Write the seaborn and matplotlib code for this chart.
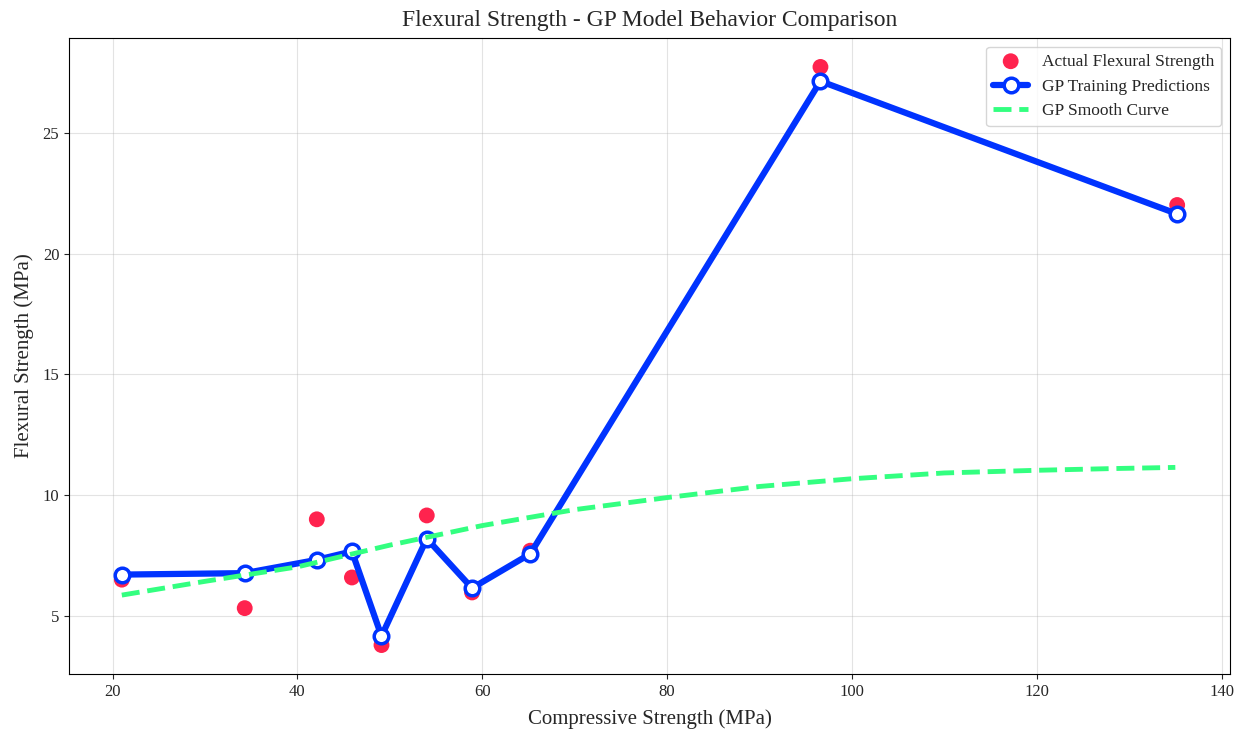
import numpy as np
import pandas as pd
import matplotlib
matplotlib.use('Agg')
import matplotlib.pyplot as plt
import seaborn as sns

# ---------------- data ----------------
comp_strength = [21.0, 34.3, 42.1, 45.9, 49.1, 54.0, 58.9, 65.2, 96.6, 135.2]
flex_actual = [6.50, 5.32, 9.00, 6.59, 3.79, 9.16, 5.97, 7.70, 27.74, 22.02]
flex_pred = [6.71, 6.77, 7.32, 7.67, 4.16, 8.20, 6.15, 7.57, 27.15, 21.65]

smooth_x = [21, 30, 40, 50, 60, 70, 80, 90, 100, 110, 120, 128, 135]
smooth_y = [5.86, 6.43, 7.03, 7.93, 8.74, 9.40, 9.90, 10.36, 10.68, 10.92, 11.03, 11.10, 11.15]

df = pd.DataFrame({'x': comp_strength, 'actual': flex_actual, 'pred': flex_pred})
df_smooth = pd.DataFrame({'x': smooth_x, 'y': smooth_y})

# ---------------- style ----------------
sns.set_style('ticks')
plt.rcParams['font.family'] = ['Liberation Serif', 'DejaVu Serif']
plt.rcParams['axes.edgecolor'] = 'black'

fig, ax = plt.subplots(figsize=(12.44, 7.31), dpi=100)

sns.scatterplot(data=df, x='x', y='actual', ax=ax, color='#ff1744', s=130,
                edgecolor='none', alpha=0.95, label='Actual Flexural Strength', zorder=2)
sns.lineplot(data=df, x='x', y='pred', ax=ax, color='#0033ff', linewidth=4.5,
             marker='o', markersize=10.5, markerfacecolor='white',
             markeredgecolor='#0033ff', markeredgewidth=2.5,
             label='GP Training Predictions', zorder=3)
sns.lineplot(data=df_smooth, x='x', y='y', ax=ax, color='#33ff80', linewidth=3.5,
             linestyle='--', label='GP Smooth Curve', zorder=4)

ax.set_title('Flexural Strength - GP Model Behavior Comparison', fontsize=17, pad=9)
ax.set_xlabel('Compressive Strength (MPa)', fontsize=15, labelpad=7)
ax.set_ylabel('Flexural Strength (MPa)', fontsize=15, labelpad=6)
ax.tick_params(labelsize=12)
ax.grid(True, color='#b0b0b0', alpha=0.35, linewidth=0.8)
ax.legend(loc='upper right', fontsize=12.5, frameon=True)

plt.subplots_adjust(left=0.0555, right=0.9887, bottom=0.078, top=0.948)
plt.savefig('out.png', dpi=100)
